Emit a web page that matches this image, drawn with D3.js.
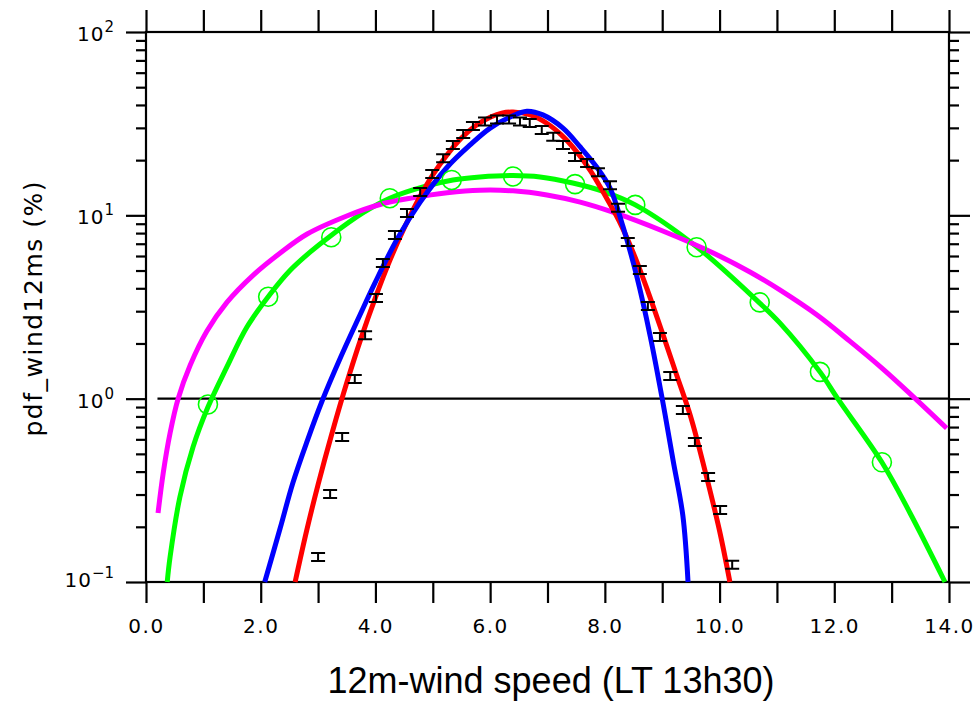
<!DOCTYPE html>
<html><head><meta charset="utf-8">
<script src="https://cdn.jsdelivr.net/npm/d3@7"></script>
<style>body{margin:0;background:#fff} svg{display:block}</style>
</head><body>
<script>
// ---- axis ticks / labels ----
const xTickValues = [0,1,2,3,4,5,6,7,8,9,10,11,12,13,14];
const xLabelValues = [0,2,4,6,8,10,12,14];
const xLabelTexts = ["0.0","2.0","4.0","6.0","8.0","10.0","12.0","14.0"];
const yMajorValues = [0.1,1,10,100];
const yMajorExponents = ["\u22121","0","1","2"];
const yMinorValues = [0.2,0.3,0.4,0.5,0.6,0.7,0.8,0.9,2,3,4,5,6,7,8,9,20,30,40,50,60,70,80,90];
const yTitle = "pdf_wind12ms (%)";
const xTitle = "12m-wind speed (LT 13h30)";

// ---- series ----
const redX = [2.60,2.80,3.00,3.25,3.50,3.75,4.00,4.25,4.50,4.75,5.00,5.25,5.50,5.75,6.00,6.20,6.40,6.70,7.00,7.25,7.50,7.75,8.00,8.25,8.50,8.75,9.00,9.25,9.50,9.75,10.00,10.18];
const redY = [0.10,0.19,0.34,0.66,1.22,2.14,3.56,5.66,8.5,12.2,16.6,21.4,26.4,30.9,34.3,36.1,36.6,35.3,31.6,27.3,22.4,17.5,12.9,9.3,6.2,3.85,2.3,1.35,0.79,0.40,0.19,0.10];

const blueX = [2.07,2.34,2.56,2.81,3.07,3.38,3.73,3.99,4.38,4.78,5.25,5.65,6.00,6.35,6.64,6.92,7.27,7.57,7.86,8.09,8.32,8.56,8.79,9.00,9.19,9.36,9.45];
const blueY = [0.10,0.197,0.347,0.587,0.971,1.645,2.86,4.27,7.43,11.8,18.3,24.2,29.9,34.4,37.0,35.3,29.9,23.6,18.3,14.1,8.6,4.6,2.2,1.00,0.46,0.23,0.10];

const greenX = [0.37,0.42,0.59,0.82,1.08,1.41,1.76,2.16,2.51,2.86,3.21,3.78,4.25,4.83,5.35,5.82,6.40,6.87,7.44,7.97,8.53,9.61,10.70,11.05,11.75,12.06,12.83,13.32,13.93];
const greenY = [0.10,0.137,0.29,0.545,0.90,1.49,2.46,3.7,5.0,6.3,7.7,10.3,12.4,14.3,15.6,16.2,16.5,16.2,15.0,13.5,11.4,6.7,3.32,2.59,1.40,1.00,0.45,0.238,0.10];

const greenCircX = [1.08,2.13,3.23,4.25,5.33,6.40,7.48,8.53,9.60,10.70,11.75,12.83];
const greenCircY = [0.93,3.6,7.6,12.4,15.6,16.3,14.8,11.4,6.7,3.35,1.40,0.45];

const magX = [0.21,0.30,0.42,0.56,0.77,1.06,1.41,1.87,2.34,2.81,3.50,4.08,4.65,5.25,5.82,6.40,6.99,7.57,8.14,9.01,9.89,10.53,11.05,11.70,12.27,12.85,13.37,13.96];
const magY = [0.238,0.393,0.65,1.00,1.52,2.33,3.35,4.72,6.23,7.91,9.92,11.46,12.45,13.27,13.71,13.6,12.9,11.8,10.4,8.21,6.23,4.91,3.92,2.86,2.06,1.45,1.03,0.69];

const obsX = [3.00,3.21,3.42,3.64,3.82,4.01,4.13,4.34,4.55,4.78,4.99,5.18,5.35,5.53,5.70,5.91,6.12,6.33,6.52,6.69,6.90,7.10,7.27,7.48,7.69,7.88,8.09,8.23,8.40,8.61,8.75,8.96,9.14,9.36,9.57,9.80,10.01,10.22];
const obsY = [0.137,0.302,0.618,1.28,2.22,3.54,5.5,7.8,10.3,13.4,16.8,20.5,24.2,27.8,30.7,32.5,33.3,33.3,32.5,31.9,29.2,26.8,24.2,20.8,19.3,17.2,14.6,11.0,7.16,5.03,3.2,2.17,1.33,0.867,0.58,0.374,0.247,0.124];

const refX = [0.2,14];
const refY = [1,1];

// ---- drawing ----
const svg = d3.select("body").append("svg").attr("width",975).attr("height",702);
const x = d3.scaleLinear().domain([0,14]).range([146,949]);
const y = d3.scaleLog().domain([0.1,100]).range([582,32]);
const AX = 2.2;
const tickFont = "'DejaVu Sans', sans-serif";

function styleAxis(g){
  g.select(".domain").remove();
  g.selectAll(".tick line").attr("stroke","#000").attr("stroke-width",AX);
}
const xLabelMap = new Map(xLabelValues.map((v,i)=>[v,xLabelTexts[i]]));

svg.append("g").attr("transform","translate(0,582)")
  .call(d3.axisBottom(x).tickValues(xTickValues).tickSize(21).tickPadding(16)
        .tickFormat(d=>xLabelMap.get(d)||""))
  .call(styleAxis)
  .call(g=>g.selectAll("text").attr("font-family",tickFont).attr("font-size",20)
        .attr("letter-spacing",1.5).attr("fill","#000"));
svg.append("g").attr("transform","translate(0,32)")
  .call(d3.axisTop(x).tickValues(xTickValues).tickSize(22).tickFormat(""))
  .call(styleAxis);
svg.append("g").attr("transform","translate(146,0)")
  .call(d3.axisLeft(y).tickValues(yMajorValues).tickSize(20).tickFormat(""))
  .call(styleAxis);
svg.append("g").attr("transform","translate(146,0)")
  .call(d3.axisLeft(y).tickValues(yMinorValues).tickSize(10).tickFormat(""))
  .call(styleAxis);
svg.append("g").attr("transform","translate(949,0)")
  .call(d3.axisRight(y).tickValues(yMajorValues).tickSize(21).tickFormat(""))
  .call(styleAxis);
svg.append("g").attr("transform","translate(949,0)")
  .call(d3.axisRight(y).tickValues(yMinorValues).tickSize(10).tickFormat(""))
  .call(styleAxis);

svg.append("rect").attr("x",x(0)).attr("y",y(100)).attr("width",x(14)-x(0)).attr("height",y(0.1)-y(100))
  .attr("fill","none").attr("stroke","#000").attr("stroke-width",AX);

// y tick labels 10^n
yMajorValues.forEach((v,i)=>{
  const t = svg.append("text").attr("x",114).attr("y",Math.min(y(v)+9,587))
    .attr("text-anchor","end").attr("font-family",tickFont).attr("font-size",20).attr("fill","#000");
  t.append("tspan").text("10").attr("letter-spacing",1);
  t.append("tspan").attr("dy",-9).attr("font-size",15).text(yMajorExponents[i]);
});

// titles
svg.append("text").attr("transform","translate(42,309) rotate(-90)")
  .attr("text-anchor","middle").attr("font-family",tickFont).attr("font-size",25)
  .attr("textLength",255).attr("lengthAdjust","spacing").attr("fill","#000").text(yTitle);
svg.append("text").attr("x",551).attr("y",693).attr("text-anchor","middle")
  .attr("font-family","'Liberation Sans', Arial, sans-serif").attr("font-size",36).attr("fill","#000").text(xTitle);

const line = d3.line().x(d=>x(d[0])).y(d=>y(d[1])).curve(d3.curveCatmullRom.alpha(0.5));

// reference line at 10^0
svg.append("path").datum(d3.zip(refX,refY)).attr("d",d3.line().x(d=>x(d[0])).y(d=>y(d[1])))
  .attr("stroke","#000").attr("stroke-width",AX).attr("fill","none");

const series = [
  {X:greenX,Y:greenY,c:"#00ff00"},
  {X:magX,Y:magY,c:"#ff00ff"},
  {X:redX,Y:redY,c:"#ff0000"},
  {X:blueX,Y:blueY,c:"#0000ff"}
];
series.forEach(s=>{
  svg.append("path").datum(d3.zip(s.X,s.Y)).attr("d",line)
    .attr("fill","none").attr("stroke",s.c).attr("stroke-width",5).attr("stroke-linejoin","round");
});

svg.append("g").selectAll("circle").data(d3.zip(greenCircX,greenCircY)).join("circle")
  .attr("cx",d=>x(d[0])).attr("cy",d=>y(d[1])).attr("r",9.5)
  .attr("fill","none").attr("stroke","#00ff00").attr("stroke-width",1.6);

svg.append("g").selectAll("path").data(d3.zip(obsX,obsY)).join("path")
  .attr("d",d=>{const px=x(d[0]),py=y(d[1]);
    return `M${px-7},${py-4}h14M${px-7},${py+4}h14M${px},${py-4}v8`;})
  .attr("stroke","#000").attr("stroke-width",2).attr("fill","none");
</script>
</body></html>
